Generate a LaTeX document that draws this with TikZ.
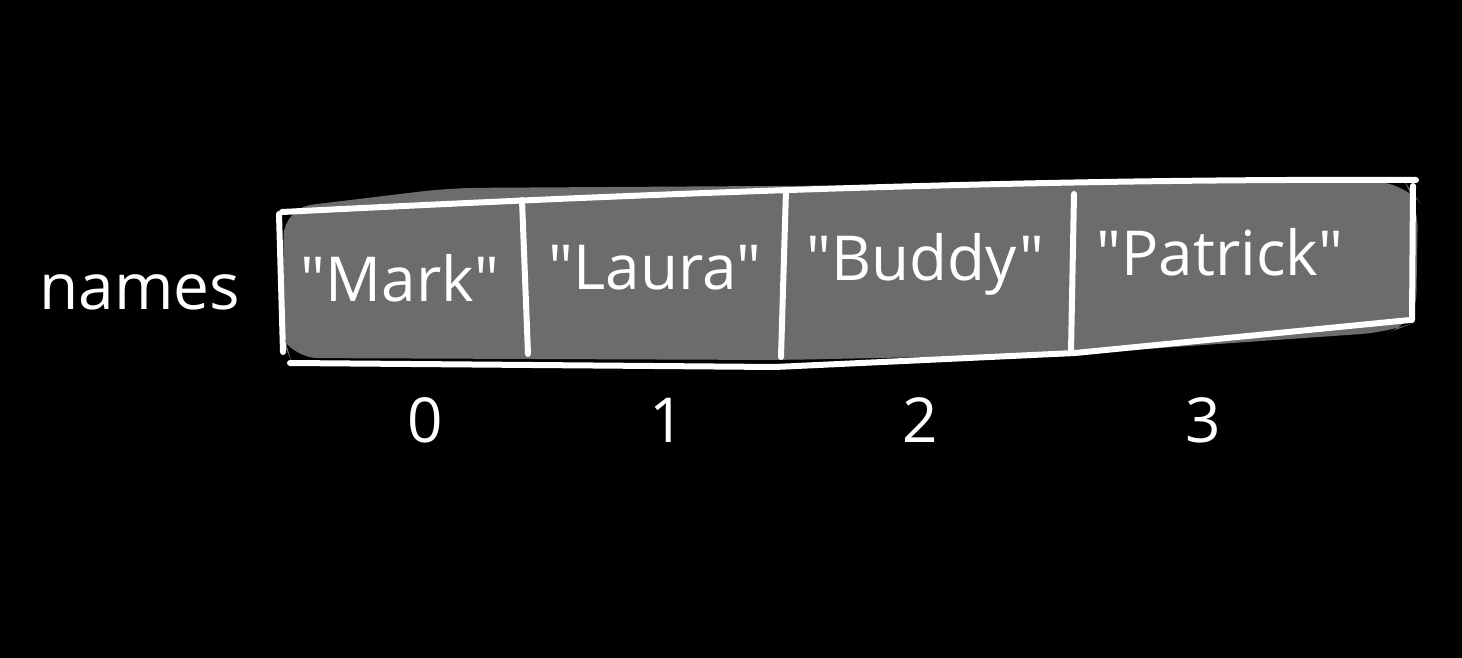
\documentclass[tikz,border=0pt]{standalone}
\usepackage{fontspec}
\newfontfamily\hand{Open Sans}
\begin{document}
\begin{tikzpicture}[x=0.5pt,y=-0.5pt,
  ink/.style={draw=white,line width=3pt,line cap=round,line join=round},
  lbl/.style={text=white,font=\hand\fontsize{31}{36}\selectfont,inner sep=0pt},
  idx/.style={text=white,font=\hand\fontsize{31}{36}\selectfont,inner sep=0pt}]
\fill[black] (0,0) rectangle (1462,658);
\useasboundingbox (0,0) rectangle (1462,658);
% gray body
\fill[rounded corners=14pt,fill={rgb,255:red,108;green,108;blue,108}]
  (284,208) -- (450,188) -- (1405,182) -- (1418,200) -- (1416,322) -- (1390,332) -- (1075,354) -- (780,360) -- (290,358) -- (282,340) -- cycle;
% outline
\coordinate (tl) at (282,212);
\coordinate (tr) at (1416,180);
\coordinate (bl) at (290,363);
\coordinate (bm1) at (775,367);
\coordinate (bm2) at (1075,353);
\coordinate (br) at (1410,320);
\draw[ink] (tl) .. controls (600,196) and (1000,178) .. (tr);
\draw[ink] (bl) -- (bm1) -- (bm2) -- (br);
\draw[ink] (279,214) -- (283,352);
\draw[ink] (1413,186) -- (1412,320);
\draw[ink] (522,200) -- (528,354);
\draw[ink] (786,190) -- (781,357);
\draw[ink] (1074,194) -- (1071,352);
% labels
\node[lbl] (m) at (400,278) {"Mark"};
\node[lbl] (l) at (655,268) {"Laura"};
\node[lbl] (b) at (925,264) {"Buddy"};
\node[lbl] (p) at (1220,252) {"Patrick"};
\node[text=white,font=\hand\fontsize{32}{38}\selectfont,inner sep=0pt] (n) at (140,292) {names};
\node[idx] (i0) at (425,420) {0};
\node[idx] (i1) at (667,420) {1};
\node[idx] (i2) at (920,420) {2};
\node[idx] (i3) at (1203,420) {3};
\end{tikzpicture}
\end{document}
